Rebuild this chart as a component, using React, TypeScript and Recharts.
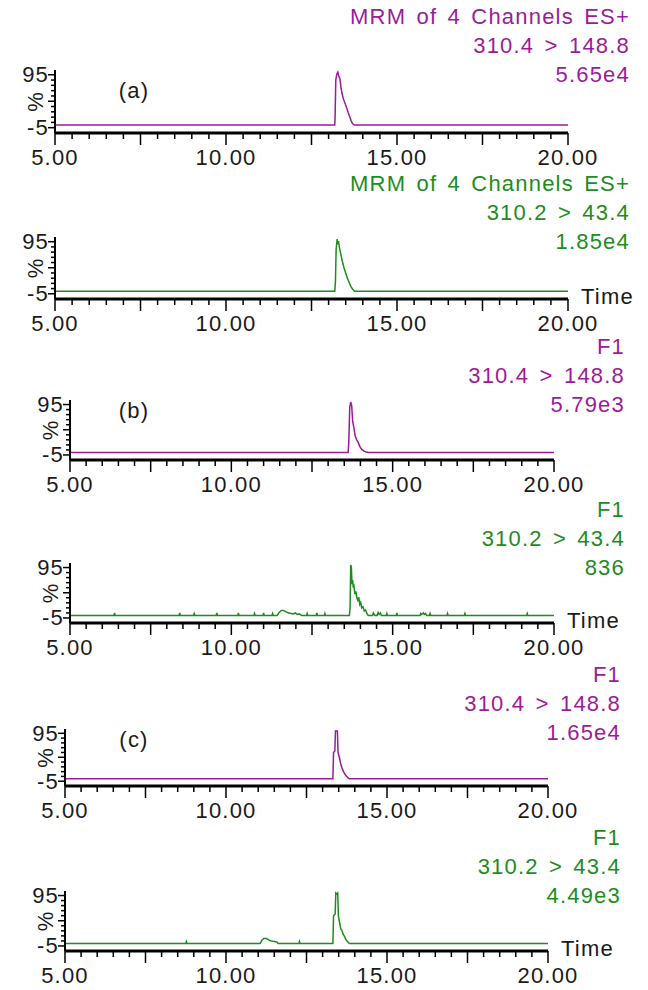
import { LineChart, Line, XAxis, YAxis } from 'recharts';

const PURPLE = '#9b1b9b';
const GREEN = '#1e8c1e';
const INK = '#1a1a1a';
const FONT = '"Liberation Sans", Arial, sans-serif';

// retention time axis, minutes
const xTicks = [5, 5.5, 6, 6.5, 7, 7.5, 8, 8.5, 9, 9.5, 10, 10.5, 11, 11.5, 12, 12.5, 13, 13.5, 14, 14.5, 15, 15.5, 16, 16.5, 17, 17.5, 18, 18.5, 19, 19.5, 20];
const xLabels = [5, 10, 15, 20];
// relative intensity axis, %
const yTicks = [-5, 5, 15, 25, 35, 45, 55, 65, 75, 85, 95];
const yLabels = [-5, 95];
const Y_DOMAIN: [number, number] = [-15, 104];

// [time, % intensity]
const traceA1: [number, number][] = [
  [5, 0], [13.18, 0], [13.19, 15], [13.21, 85], [13.24, 96], [13.27, 100], [13.3, 92], [13.33, 88],
  [13.36, 72], [13.39, 60], [13.44, 48], [13.48, 41], [13.53, 32], [13.57, 24], [13.62, 15],
  [13.66, 8], [13.7, 3], [13.75, 0], [20, 0],
];
const traceA2: [number, number][] = [
  [5, 0], [13.18, 0], [13.2, 18], [13.22, 80], [13.25, 100], [13.27, 90], [13.29, 96], [13.32, 82],
  [13.36, 70], [13.4, 58], [13.45, 45], [13.5, 35], [13.55, 25], [13.6, 17], [13.65, 9], [13.7, 4],
  [13.76, 0], [20, 0],
];
const traceB1: [number, number][] = [
  [5, 0], [13.62, 0], [13.64, 20], [13.67, 90], [13.7, 100], [13.73, 93], [13.76, 62], [13.8, 48],
  [13.84, 32], [13.88, 26], [13.93, 20], [13.98, 12], [14.04, 6], [14.1, 3], [14.18, 1], [14.25, 0],
  [20, 0],
];
const traceB2: [number, number][] = [
  [5, 0],
  [6.36, 0], [6.38, 5], [6.4, 0],
  [8.38, 0], [8.4, 5], [8.42, 0],
  [8.83, 0], [8.85, 4], [8.87, 0],
  [9.53, 0], [9.55, 5], [9.57, 0],
  [10.2, 0], [10.22, 5], [10.24, 0],
  [10.7, 0], [10.72, 4], [10.74, 0],
  [10.98, 0], [11.0, 5], [11.02, 0],
  [11.26, 0], [11.28, 4], [11.3, 0],
  [11.42, 0], [11.48, 6], [11.55, 10], [11.62, 10], [11.7, 7], [11.78, 5], [11.86, 4], [11.92, 3],
  [11.98, 5], [12.04, 2], [12.1, 3], [12.18, 0],
  [12.33, 0], [12.35, 4], [12.37, 0],
  [12.63, 0], [12.65, 5], [12.67, 0],
  [12.88, 0], [12.9, 4], [12.92, 0],
  [13.66, 0], [13.68, 15], [13.7, 100], [13.72, 96], [13.74, 62], [13.76, 70], [13.78, 55], [13.8, 58],
  [13.83, 42], [13.86, 48], [13.89, 35], [13.92, 30], [13.95, 36], [13.98, 22], [14.01, 26], [14.04, 15],
  [14.08, 17], [14.12, 9], [14.16, 11], [14.2, 4], [14.24, 0],
  [14.38, 0], [14.4, 5], [14.42, 3], [14.45, 0],
  [14.52, 0], [14.55, 6], [14.58, 2], [14.62, 5], [14.65, 0],
  [14.8, 0], [14.82, 4], [14.84, 0],
  [15.11, 0], [15.13, 5], [15.15, 0],
  [15.85, 0], [15.87, 4], [15.9, 2], [15.95, 5], [15.98, 2], [16.02, 4], [16.05, 0],
  [16.14, 0], [16.16, 4], [16.18, 0],
  [16.68, 0], [16.7, 4], [16.72, 0],
  [17.22, 0], [17.24, 4], [17.26, 0],
  [19.15, 0], [19.17, 4], [19.19, 0],
  [20, 0],
];
const traceC1: [number, number][] = [
  [5, 0], [13.32, 0], [13.34, 55], [13.38, 58], [13.4, 100], [13.46, 100], [13.48, 55], [13.52, 45],
  [13.56, 32], [13.6, 23], [13.65, 15], [13.7, 9], [13.76, 4], [13.83, 0], [20, 0],
];
const traceC2: [number, number][] = [
  [5, 0],
  [8.75, 0], [8.77, 4], [8.79, 0],
  [11.06, 0], [11.12, 7], [11.18, 10], [11.26, 10], [11.32, 7], [11.4, 5], [11.5, 4], [11.58, 3], [11.62, 0],
  [12.26, 0], [12.28, 4], [12.3, 0],
  [13.32, 0], [13.34, 55], [13.39, 58], [13.41, 100], [13.44, 98], [13.47, 100], [13.49, 55], [13.53, 40],
  [13.57, 28], [13.6, 26], [13.64, 18], [13.68, 14], [13.72, 8], [13.77, 4], [13.83, 0],
  [20, 0],
];

const headerA1 = ['MRM of 4 Channels ES+', '310.4 > 148.8', '5.65e4'];
const headerA2 = ['MRM of 4 Channels ES+', '310.2 > 43.4', '1.85e4'];
const headerB1 = ['F1', '310.4 > 148.8', '5.79e3'];
const headerB2 = ['F1', '310.2 > 43.4', '836'];
const headerC1 = ['F1', '310.4 > 148.8', '1.65e4'];
const headerC2 = ['F1', '310.2 > 43.4', '4.49e3'];

type PanelSpec = {
  trace: [number, number][];
  header: string[];
  color: string;
  tag?: string;
  tagY?: number;
  time?: boolean;
  axisX: number;
  xEnd: number;
  top: number;
  bottom: number;
  textRight: number;
};

const panels: PanelSpec[] = [
  { trace: traceA1, header: headerA1, color: PURPLE, tag: '(a)', tagY: 91, axisX: 55, xEnd: 568, top: 70, bottom: 133, textRight: 630 },
  { trace: traceA2, header: headerA2, color: GREEN, time: true, axisX: 55, xEnd: 568, top: 237, bottom: 299, textRight: 630 },
  { trace: traceB1, header: headerB1, color: PURPLE, tag: '(b)', tagY: 411, axisX: 70, xEnd: 554, top: 400, bottom: 460, textRight: 625 },
  { trace: traceB2, header: headerB2, color: GREEN, time: true, axisX: 70, xEnd: 554, top: 563, bottom: 623, textRight: 625 },
  { trace: traceC1, header: headerC1, color: PURPLE, tag: '(c)', tagY: 740, axisX: 65, xEnd: 548, top: 729, bottom: 786, textRight: 621 },
  { trace: traceC2, header: headerC2, color: GREEN, time: true, axisX: 65, xEnd: 548, top: 891, bottom: 951, textRight: 621 },
];

const textStyle = { fontFamily: FONT, fontSize: 22, letterSpacing: 1.2 };

function XTick(props: any) {
  const { x, y, payload } = props;
  const v = payload.value as number;
  const long = v % 2.5 === 0;
  return (
    <g>
      <line x1={x} x2={x} y1={y} y2={y + (long ? 12 : 6)} stroke="#000" strokeWidth={1.5} />
      {xLabels.includes(v) && (
        <text x={x} y={y + 24} textAnchor="middle" dominantBaseline="central" fill={INK} style={textStyle}>
          {v.toFixed(2)}
        </text>
      )}
    </g>
  );
}

function YTick(props: any) {
  const { x, y, payload } = props;
  const v = payload.value as number;
  const long = v === -5 || v === 45 || v === 95;
  return (
    <g>
      <line x1={x} x2={x - (long ? 7 : 4)} y1={y} y2={y} stroke="#000" strokeWidth={1.5} />
      {yLabels.includes(v) && (
        <text x={x - 6} y={y} textAnchor="end" dominantBaseline="central" fill={INK} style={textStyle}>
          {v}
        </text>
      )}
      {v === 45 && (
        <text x={x - 19} y={y} textAnchor="middle" dominantBaseline="central" fill={INK}
          transform={`rotate(-90 ${x - 19} ${y})`} style={textStyle}>
          %
        </text>
      )}
    </g>
  );
}

function Panel({ p }: { p: PanelSpec }) {
  const mt = 20;
  const xAxisH = 44;
  const plotH = p.bottom - p.top;
  const chartH = mt + plotH + xAxisH;
  const data = p.trace.map(([t, v]) => ({ t, v }));
  const y95 = p.top + ((Y_DOMAIN[1] - 95) / (Y_DOMAIN[1] - Y_DOMAIN[0])) * plotH;

  return (
    <>
      <div style={{ position: 'absolute', left: 0, top: p.top - mt }}>
        <LineChart
          width={648}
          height={chartH}
          data={data}
          margin={{ top: mt, right: 648 - p.xEnd, bottom: 0, left: p.axisX - 50 }}
        >
          <XAxis
            dataKey="t"
            type="number"
            domain={[5, 20]}
            ticks={xTicks}
            interval={0}
            height={xAxisH}
            tickSize={0}
            tickMargin={0}
            tickLine={false}
            axisLine={{ stroke: '#000', strokeWidth: 3 }}
            tick={(props: any) => <XTick {...props} />}
            allowDataOverflow
          />
          <YAxis
            type="number"
            domain={Y_DOMAIN}
            ticks={yTicks}
            interval={0}
            width={50}
            tickSize={0}
            tickMargin={0}
            tickLine={false}
            axisLine={{ stroke: '#000', strokeWidth: 2 }}
            tick={(props: any) => <YTick {...props} />}
            allowDataOverflow
          />
          <Line
            dataKey="v"
            type="linear"
            stroke={p.color}
            strokeWidth={1.5}
            dot={false}
            isAnimationActive={false}
          />
        </LineChart>
      </div>
      <div
        style={{
          position: 'absolute',
          right: 648 - p.textRight,
          top: y95 - 73,
          textAlign: 'right',
          lineHeight: '29px',
          color: p.color,
          whiteSpace: 'pre',
          wordSpacing: 3,
          ...textStyle,
        }}
      >
        {p.header.map((line) => (
          <div key={line}>{line}</div>
        ))}
      </div>
      {p.tag && (
        <div style={{ position: 'absolute', left: 112, top: (p.tagY ?? y95) - 14, width: 44, textAlign: 'center', lineHeight: '27px', color: INK, ...textStyle }}>
          {p.tag}
        </div>
      )}
      {p.time && (
        <div style={{ position: 'absolute', left: p.xEnd + 13, top: p.bottom - 16, lineHeight: '27px', color: INK, ...textStyle }}>
          Time
        </div>
      )}
    </>
  );
}

export default function App() {
  return (
    <div style={{ position: 'absolute', left: 0, top: 0, width: 648, height: 990, background: '#fff', overflow: 'hidden' }}>
      {panels.map((p, i) => (
        <Panel key={i} p={p} />
      ))}
    </div>
  );
}
